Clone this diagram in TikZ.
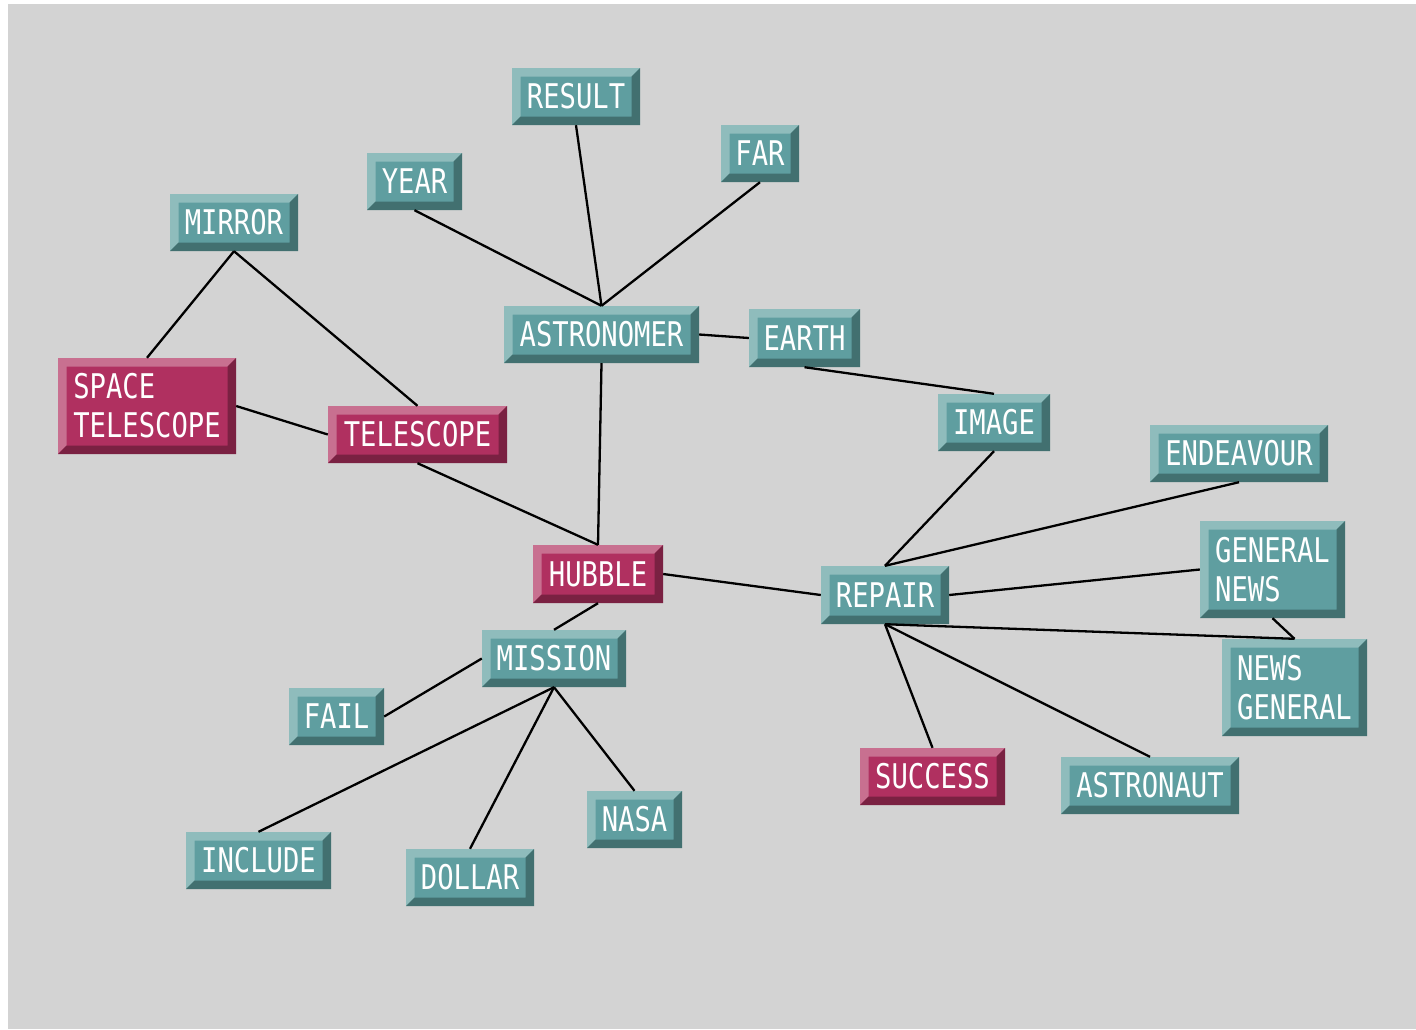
\documentclass[tikz,border=0pt]{standalone}
\usepackage{fontspec}
\newfontfamily\pixfont[FakeStretch=0.8]{DejaVu Sans Mono}
\definecolor{bg}{HTML}{D3D3D3}
\definecolor{tealface}{HTML}{5F9EA0}
\definecolor{teallight}{HTML}{8FBCBC}
\definecolor{tealdark}{HTML}{427070}
\definecolor{pinkface}{HTML}{B03060}
\definecolor{pinklight}{HTML}{C87090}
\definecolor{pinkdark}{HTML}{7A2142}
\tikzset{
  bevel/.style 2 args={
    path picture={
      \fill[#1] (path picture bounding box.south west)
        -- (path picture bounding box.north west)
        -- (path picture bounding box.north east)
        -- ([xshift=-8.5pt,yshift=-8.5pt]path picture bounding box.north east)
        -- ([xshift=8.5pt,yshift=-8.5pt]path picture bounding box.north west)
        -- ([xshift=8.5pt,yshift=8.5pt]path picture bounding box.south west) -- cycle;
      \fill[#2] (path picture bounding box.south west)
        -- (path picture bounding box.south east)
        -- (path picture bounding box.north east)
        -- ([xshift=-8.5pt,yshift=-8.5pt]path picture bounding box.north east)
        -- ([xshift=-8.5pt,yshift=8.5pt]path picture bounding box.south east)
        -- ([xshift=8.5pt,yshift=8.5pt]path picture bounding box.south west) -- cycle;
    }},
  box/.style={rectangle, inner sep=0pt, text=white, align=left,
    font=\pixfont\fontsize{34}{39}\selectfont},
  tealbox/.style={box, fill=tealface, bevel={teallight}{tealdark}},
  pinkbox/.style={box, fill=pinkface, bevel={pinklight}{pinkdark}},
  sz/.style 2 args={minimum width=#1, minimum height=#2},
  link/.style={draw=black, line width=2.3pt}
}
\begin{document}
\begin{tikzpicture}[x=1pt, y={(0pt,-1pt)}]
  % canvas
  \fill[white] (0,0) rectangle (1416,1029);
  \useasboundingbox (0,0) rectangle (1416,1029);
  \fill[bg] (8,4) rectangle (1416,1029);

  % keyword boxes
  \node[tealbox, sz={128}{57}] (result) at (576,96.5) {RESULT};
  \node[tealbox, sz={95}{57}] (year) at (414.5,181.5) {YEAR};
  \node[tealbox, sz={78}{57}] (far) at (760,153.5) {FAR};
  \node[tealbox, sz={128}{57}] (mirror) at (234,222.5) {MIRROR};
  \node[tealbox, sz={195}{57}] (astronomer) at (601.5,334.5) {ASTRONOMER};
  \node[tealbox, sz={111}{58}] (earth) at (804.5,338) {EARTH};
  \node[pinkbox, sz={178}{96}] (spacetel) at (147,406) {SPACE\\TELESCOPE};
  \node[pinkbox, sz={179}{57}] (telescope) at (417.5,434.5) {TELESCOPE};
  \node[tealbox, sz={112}{57}] (image) at (994,422.5) {IMAGE};
  \node[tealbox, sz={178}{57}] (endeavour) at (1239,453.5) {ENDEAVOUR};
  \node[pinkbox, sz={130}{58}] (hubble) at (598,574) {HUBBLE};
  \node[tealbox, sz={145}{97}] (gennews) at (1272.5,569.5) {GENERAL\\NEWS};
  \node[tealbox, sz={128}{58}] (repair) at (885,595) {REPAIR};
  \node[tealbox, sz={144}{57}] (mission) at (554,658.5) {MISSION};
  \node[tealbox, sz={145}{97}] (newsgen) at (1294.5,687.5) {NEWS\\GENERAL};
  \node[tealbox, sz={95}{57}] (fail) at (336.5,716.5) {FAIL};
  \node[pinkbox, sz={145}{57}] (success) at (932.5,776.5) {SUCCESS};
  \node[tealbox, sz={178}{57}] (astronaut) at (1150,785.5) {ASTRONAUT};
  \node[tealbox, sz={95}{57}] (nasa) at (634.5,819.5) {NASA};
  \node[tealbox, sz={145}{57}] (include) at (258.5,860.5) {INCLUDE};
  \node[tealbox, sz={128}{57}] (dollar) at (470,877.5) {DOLLAR};

  % links
  \draw[link] (result.south) -- (astronomer.north);
  \draw[link] (year.south) -- (astronomer.north);
  \draw[link] (far.south) -- (astronomer.north);
  \draw[link] (astronomer.east) -- (earth.west);
  \draw[link] (astronomer.south) -- (hubble.north);
  \draw[link] (mirror.south) -- (spacetel.north);
  \draw[link] (mirror.south) -- (telescope.north);
  \draw[link] (spacetel.east) -- (telescope.west);
  \draw[link] (telescope.south) -- (hubble.north);
  \draw[link] (earth.south) -- (image.north);
  \draw[link] (image.south) -- (repair.north);
  \draw[link] (endeavour.south) -- (repair.north);
  \draw[link] (gennews.west) -- (repair.east);
  \draw[link] (gennews.south) -- (newsgen.north);
  \draw[link] (repair.south) -- (newsgen.north);
  \draw[link] (hubble.east) -- (repair.west);
  \draw[link] (repair.south) -- (success.north);
  \draw[link] (repair.south) -- (astronaut.north);
  \draw[link] (hubble.south) -- (mission.north);
  \draw[link] (mission.west) -- (fail.east);
  \draw[link] (mission.south) -- (include.north);
  \draw[link] (mission.south) -- (dollar.north);
  \draw[link] (mission.south) -- (nasa.north);
\end{tikzpicture}
\end{document}
